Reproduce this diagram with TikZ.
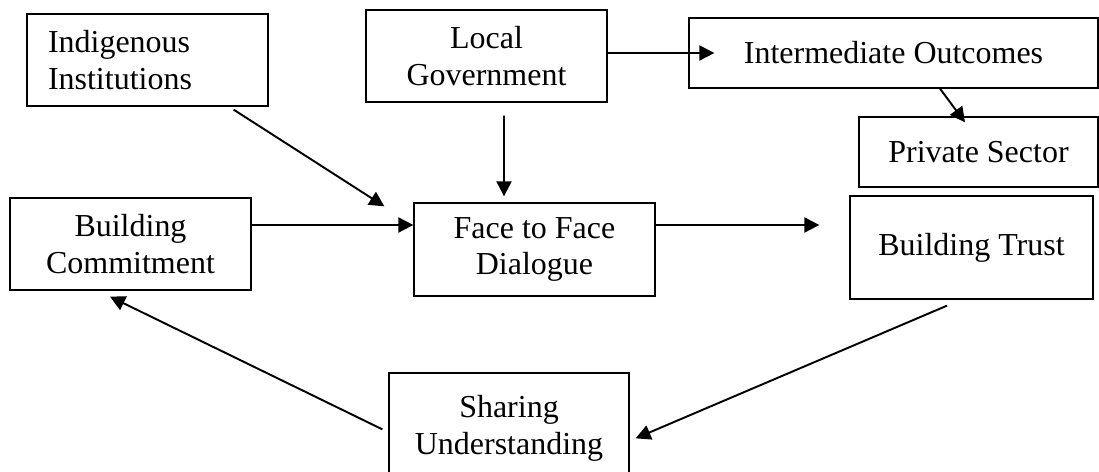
\documentclass[tikz,border=0pt]{standalone}
\usepackage{fontspec}
\setmainfont{Liberation Serif}
\usetikzlibrary{calc,arrows.meta}
\tikzset{
  box/.style={draw, line width=0.75pt, align=center, minimum width=4.82cm, minimum height=1.84cm, font=\fontsize{18.2}{21}\selectfont},
  arr/.style={line width=1.1pt, -{Triangle[length=0.3cm,width=0.3cm]}}
}

\begin{document}
\begin{tikzpicture}[x=0.02cm,y=-0.02cm]
    \useasboundingbox (0,0) rectangle (1099,472);
    \node[box, align=left, text width=3.98cm, inner xsep=0.42cm] (ind) at (147.5,60) {Indigenous\\Institutions};
    \node[box] (gov) at (486.5,56) {Local\\Government};
    \node[box, minimum width=8.18cm, minimum height=1.4cm] (inter) at (893.5,53) {Intermediate Outcomes};
    \node[box, minimum width=4.78cm, minimum height=1.4cm] (priv) at (978.5,152) {Private Sector};
    \node[box] (comm) at (130.5,244) {Building\\Commitment};
    \node[box, minimum height=1.86cm] (face) at (534.5,249.5) {Face to Face\\Dialogue};
    \node[box, minimum width=4.86cm, minimum height=2.06cm] (trust) at (971.5,247.5) {Building Trust};
    \node[box, minimum width=4.8cm, minimum height=2.22cm] (share) at (509,428.5) {Sharing\\Understanding};

    \draw[arr] ($(ind.south east)+(-35,3)$) -- ($(face.north west)+(-29,4)$);
    \draw[arr] ($(gov.south)+(17.5,13)$) -- ($(face.north)+(-30.5,-6)$);
    \draw[arr] (gov.east |- inter.west) -- ($(inter.west)+(26,0)$);
    \draw[arr] ($(inter.south)+(46.5,0)$) -- ($(priv.north)+(-13.5,6)$);
    \draw[arr] ($(comm.east)+(0,-19)$) -- ($(face.west)+(0,-24.5)$);
    \draw[arr] ($(face.east)+(0,-24.5)$) -- ($(trust.west)+(-30,-22.5)$);
    \draw[arr] ($(trust.south)+(-24.5,6)$) -- ($(share.north east)+(6,66)$);
    \draw[arr] ($(share.north west)+(-6,57)$) -- ($(comm.south)+(-20.5,6)$);
\end{tikzpicture}
\end{document}
